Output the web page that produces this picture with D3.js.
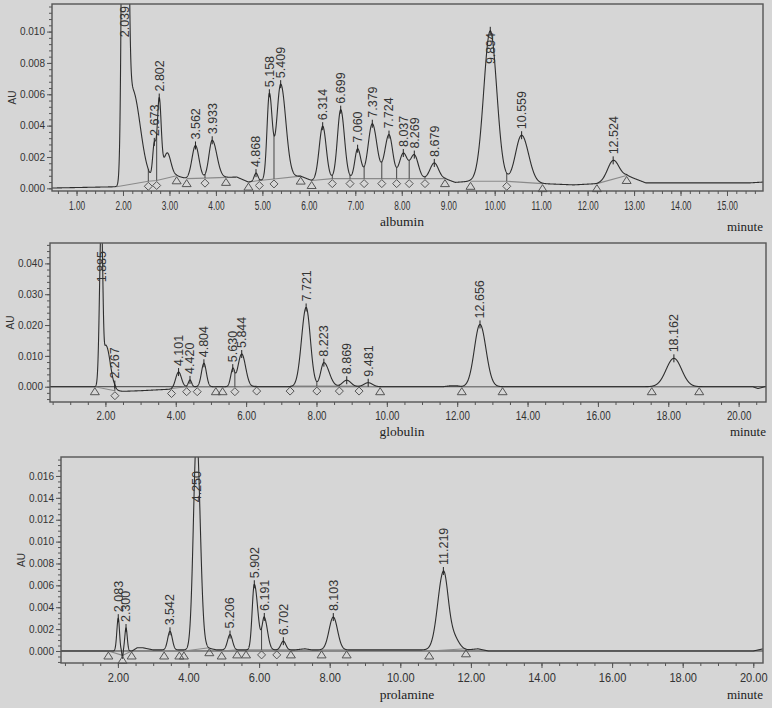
<!DOCTYPE html>
<html>
<head>
<meta charset="utf-8">
<script src="https://cdnjs.cloudflare.com/ajax/libs/d3/7.8.5/d3.min.js"></script>
<style>
  body { margin: 0; background: #d6d6d6; }
  svg { display: block; }
</style>
</head>
<body>
<svg id="chart" width="772" height="708"></svg>
<script>
// ---- albumin: peaks (centre, height, left/right width in minutes), drift, baseline marks
var albPeakT  = [2.04, 2.2, 2.674, 2.78, 2.95, 3.56, 3.92, 4.863, 5.15, 5.394, 6.298, 6.686, 7.05, 7.366, 7.725, 8.033, 8.27, 8.70, 9.905, 10.58, 12.55];
var albPeakH  = [0.06, 0.006, 0.0022, 0.005, 0.0016, 0.0021, 0.0024, 0.0005, 0.0054, 0.006, 0.0034, 0.0044, 0.0019, 0.0035, 0.0028, 0.0016, 0.0015, 0.001, 0.0096, 0.003, 0.0012];
var albPeakSL = [0.045, 0.1, 0.035, 0.04, 0.08, 0.075, 0.07, 0.04, 0.05, 0.085, 0.075, 0.07, 0.06, 0.09, 0.09, 0.085, 0.085, 0.09, 0.14, 0.13, 0.12];
var albPeakSR = [0.05, 0.17, 0.04, 0.042, 0.08, 0.075, 0.1, 0.04, 0.06, 0.11, 0.075, 0.08, 0.07, 0.1, 0.08, 0.085, 0.085, 0.09, 0.14, 0.15, 0.12];
var albLabels = ["2.039", "", "2.673", "2.802", "", "3.562", "3.933", "4.868", "5.158", "5.409", "6.314", "6.699", "7.060", "7.379", "7.724", "8.037", "8.269", "8.679", "9.894", "10.559", "12.524"];
var albDriftT = [0.47, 1.85, 2.55, 2.72, 3.15, 3.37, 3.77, 4.22, 4.45, 4.70, 4.93, 5.25, 5.82, 6.06, 6.5, 8.93, 9.15, 9.48, 10.26, 11.03, 11.7, 12.2, 12.84, 13.25, 15.5, 15.78];
var albDriftV = [0.00002, 0.0001, 0.00045, 0.0005, 0.0008, 0.00062, 0.00065, 0.0007, 0.00072, 0.0004, 0.0005, 0.0006, 0.00078, 0.0005, 0.00062, 0.00062, 0.00038, 0.00045, 0.00045, 0.0003, 0.00022, 0.0003, 0.00082, 0.00035, 0.00035, 0.0004];
var albMarkT  = [1.86, 2.545, 2.725, 3.155, 3.37, 3.765, 4.217, 4.70, 4.934, 5.25, 5.825, 6.06, 6.505, 6.886, 7.19, 7.57, 7.89, 8.16, 8.50, 8.93, 9.48, 10.26, 11.03, 12.20, 12.84];
var albMarkV  = [0.0001, 0.00045, 0.0005, 0.0008, 0.00062, 0.00065, 0.0007, 0.0004, 0.0005, 0.0006, 0.00078, 0.0005, 0.00062, 0.00062, 0.00062, 0.00062, 0.00062, 0.00062, 0.00062, 0.00062, 0.00045, 0.00045, 0.0003, 0.0003, 0.00082];
var albMarkType  = ["", "d", "d", "t", "t", "d", "t", "t", "d", "d", "t", "t", "d", "d", "d", "d", "d", "d", "d", "t", "t", "d", "t", "t", "t"];
var albMarkGroup = [0, 0, 0, 0, 1, 1, 1, 2, 2, 2, 2, 3, 3, 3, 3, 3, 3, 3, 3, 3, 4, 4, 4, 5, 5];
var albXTicks = [1, 2, 3, 4, 5, 6, 7, 8, 9, 10, 11, 12, 13, 14, 15];
var albYTicks = [0, 0.002, 0.004, 0.006, 0.008, 0.010];

// ---- globulin
var gloPeakT  = [1.885, 2.02, 2.267, 4.08, 4.405, 4.80, 5.62, 5.875, 7.706, 8.21, 8.86, 9.47, 12.648, 18.16];
var gloPeakH  = [0.055, 0.014, 0.0003, 0.0049, 0.0022, 0.0076, 0.0053, 0.0106, 0.0257, 0.0078, 0.0021, 0.0013, 0.0202, 0.0092];
var gloPeakSL = [0.05, 0.06, 0.03, 0.08, 0.045, 0.07, 0.06, 0.11, 0.13, 0.09, 0.12, 0.12, 0.16, 0.22];
var gloPeakSR = [0.04, 0.12, 0.03, 0.08, 0.045, 0.07, 0.05, 0.11, 0.12, 0.15, 0.12, 0.12, 0.17, 0.22];
var gloLabels = ["1.885", "", "2.267", "4.101", "4.420", "4.804", "5.630", "5.844", "7.721", "8.223", "8.869", "9.481", "12.656", "18.162"];
var gloDriftT = [0.42, 1.70, 2.27, 2.5, 3.0, 3.85, 4.0, 4.3, 11.6, 11.8, 12.0, 12.13, 20.4, 20.55, 20.78];
var gloDriftV = [0, 0, -0.0013, -0.0015, -0.0013, -0.0008, -0.0002, 0, 0, 0.0003, 0.0003, 0, 0, -0.0006, 0.0001];
var gloMarkT  = [1.70, 2.27, 3.88, 4.31, 4.61, 5.14, 5.33, 5.68, 6.30, 7.25, 8.01, 8.65, 9.21, 9.81, 12.13, 13.29, 17.53, 18.88];
var gloMarkV  = [0, -0.0013, -0.0006, 0, 0, 0, 0, 0, 0.0002, 0.0002, 0.0002, 0.0002, 0.0002, 0, 0, 0, 0, 0];
var gloMarkType  = ["t", "d", "d", "d", "d", "t", "t", "d", "d", "d", "d", "d", "d", "t", "t", "t", "t", "t"];
var gloMarkGroup = [0, 0, 1, 1, 1, 1, 2, 2, 2, 3, 3, 3, 3, 3, 4, 4, 5, 5];
var gloXTicks = [2, 4, 6, 8, 10, 12, 14, 16, 18, 20];
var gloYTicks = [0, 0.010, 0.020, 0.030, 0.040];

// ---- prolamine
var proPeakT  = [2.01, 2.13, 2.23, 3.476, 4.23, 5.176, 5.864, 6.147, 6.686, 8.102, 11.22, 11.5];
var proPeakH  = [0.003, -0.0007, 0.0021, 0.0017, 0.0195, 0.0014, 0.006, 0.0029, 0.0008, 0.003, 0.007, 0.0012];
var proPeakSL = [0.04, 0.015, 0.035, 0.065, 0.09, 0.07, 0.06, 0.06, 0.07, 0.12, 0.16, 0.15];
var proPeakSR = [0.035, 0.015, 0.035, 0.065, 0.1, 0.07, 0.1, 0.09, 0.07, 0.12, 0.13, 0.15];
var proLabels = ["2.083", "", "2.300", "3.542", "4.250", "5.206", "5.902", "6.191", "6.702", "8.103", "11.219", ""];
var proDriftT = [0.39, 2.4, 2.55, 2.7, 3.0, 4.0, 4.5, 4.8, 5.6, 7.0, 7.3, 7.5, 7.7, 9.0, 11.9, 12.2, 12.5, 20.0, 20.28];
var proDriftV = [0, 0, 0.0003, 0.0003, 0.0001, 0.0001, 0.0003, 0.0001, 0.0001, 0.0001, 0.0002, 0.0001, 0.0001, 0.0001, 0.0001, 0.0002, 0, 0, 0.0002];
var proMarkT  = [1.73, 2.13, 2.39, 3.31, 3.74, 3.87, 4.59, 4.94, 5.38, 5.63, 6.07, 6.50, 6.90, 7.77, 8.48, 10.82, 11.86];
var proMarkV  = [0, -0.0004, 0, 0, 0, 0, 0.0003, 0, 0.0001, 0.0001, 0.0001, 0.0001, 0.0001, 0.0001, 0.0001, 0, 0.0002];
var proMarkType  = ["t", "t", "t", "t", "t", "t", "t", "t", "t", "t", "d", "d", "t", "t", "t", "t", "t"];
var proMarkGroup = [0, 0, 0, 1, 1, 2, 2, 3, 3, 4, 4, 4, 4, 5, 5, 6, 6];
var proXTicks = [2, 4, 6, 8, 10, 12, 14, 16, 18, 20];
var proYTicks = [0, 0.002, 0.004, 0.006, 0.008, 0.010, 0.012, 0.014, 0.016];

// panel layout
var panels = [
  { name: "albumin", left: 52, right: 763, top: 4, bottom: 191,
    xDom: [0.472, 15.775], yDom: [-0.00017, 0.01176],
    peakT: albPeakT, peakH: albPeakH, peakSL: albPeakSL, peakSR: albPeakSR, labels: albLabels,
    driftT: albDriftT, driftV: albDriftV,
    markT: albMarkT, markV: albMarkV, markType: albMarkType, markGroup: albMarkGroup,
    xTicks: albXTicks, yTicks: albYTicks, xMinor: 0.2, yMinor: 0.0004,
    xSquash: 0.64, xPad: 5, zero: false, nameX: 402, nameY: 226, minuteY: 231, auX: 12, clipPad: 0 },
  { name: "globulin", left: 50, right: 766, top: 243, bottom: 402,
    xDom: [0.425, 20.778], yDom: [-0.00496, 0.04661],
    peakT: gloPeakT, peakH: gloPeakH, peakSL: gloPeakSL, peakSR: gloPeakSR, labels: gloLabels,
    driftT: gloDriftT, driftV: gloDriftV,
    markT: gloMarkT, markV: gloMarkV, markType: gloMarkType, markGroup: gloMarkGroup,
    xTicks: gloXTicks, yTicks: gloYTicks, xMinor: 0.5, yMinor: 0.002,
    xSquash: 0.75, xPad: 4, zero: true, nameX: 402, nameY: 436, minuteY: 436, auX: 10, clipPad: 6 },
  { name: "prolamine", left: 61, right: 763, top: 457, bottom: 663,
    xDom: [0.388, 20.275], yDom: [-0.001097, 0.017733],
    peakT: proPeakT, peakH: proPeakH, peakSL: proPeakSL, peakSR: proPeakSR, labels: proLabels,
    driftT: proDriftT, driftV: proDriftV,
    markT: proMarkT, markV: proMarkV, markType: proMarkType, markGroup: proMarkGroup,
    xTicks: proXTicks, yTicks: proYTicks, xMinor: 0.5, yMinor: 0.0005,
    xSquash: 0.85, xPad: 5, zero: true, nameX: 407, nameY: 699, minuteY: 699, auX: 21, clipPad: 12 }
];

var svg = d3.select("#chart");
svg.append("rect").attr("width", 772).attr("height", 708).attr("fill", "#d6d6d6");

var sans = "'Liberation Sans', Arial, sans-serif";
var serif = "'Liberation Serif', 'Times New Roman', serif";

panels.forEach(function(p, idx) {
  var x = d3.scaleLinear().domain(p.xDom).range([p.left, p.right]);
  var y = d3.scaleLinear().domain(p.yDom).range([p.bottom, p.top]);
  var drift = d3.scaleLinear().domain(p.driftT).range(p.driftV).clamp(true);

  // trace value = drift + sum of (asymmetric) gaussian peaks
  function trace(t) {
    var v = drift(t);
    for (var i = 0; i < p.peakT.length; i++) {
      var s = t < p.peakT[i] ? p.peakSL[i] : p.peakSR[i];
      var z = (t - p.peakT[i]) / s;
      v += p.peakH[i] * Math.exp(-0.5 * z * z);
    }
    return v;
  }

  var g = svg.append("g");

  svg.append("clipPath").attr("id", "clip" + idx)
    .append("rect")
    .attr("x", p.left).attr("y", p.top)
    .attr("width", p.right - p.left).attr("height", p.bottom - p.top);

  // minor ticks
  var yMinorVals = d3.range(Math.ceil(p.yDom[0] / p.yMinor) * p.yMinor, p.yDom[1], p.yMinor);
  g.append("g").attr("transform", "translate(" + p.left + ",0)")
    .call(d3.axisLeft(y).tickValues(yMinorVals).tickSize(3).tickFormat(""))
    .call(function(a) { a.select(".domain").remove(); a.selectAll("line").attr("stroke", "#555"); });
  var xMinorVals = d3.range(Math.ceil(p.xDom[0] / p.xMinor) * p.xMinor, p.xDom[1], p.xMinor);
  g.append("g").attr("transform", "translate(0," + p.bottom + ")")
    .call(d3.axisBottom(x).tickValues(xMinorVals).tickSize(3).tickFormat(""))
    .call(function(a) { a.select(".domain").remove(); a.selectAll("line").attr("stroke", "#555"); });

  // major ticks
  g.append("g").attr("transform", "translate(" + p.left + ",0)")
    .call(d3.axisLeft(y).tickValues(p.yTicks).tickSize(5).tickPadding(2).tickFormat(d3.format(".3f")))
    .call(function(a) {
      a.select(".domain").remove();
      a.selectAll("line").attr("stroke", "#555");
      a.selectAll("text").attr("fill", "#333").style("font-family", sans).style("font-size", "10px");
    });
  g.append("g").attr("transform", "translate(0," + p.bottom + ")")
    .call(d3.axisBottom(x).tickValues(p.xTicks).tickSize(5).tickPadding(p.xPad).tickFormat(d3.format(".2f")))
    .call(function(a) {
      a.select(".domain").remove();
      a.selectAll("line").attr("stroke", "#555");
      a.selectAll("text").attr("fill", "#333").attr("transform", "scale(" + p.xSquash + ",1)")
        .style("font-family", sans).style("font-size", "13px");
    });

  // zero line
  if (p.zero) {
    g.append("line")
      .attr("x1", p.left).attr("x2", p.right)
      .attr("y1", y(0)).attr("y2", y(0))
      .attr("stroke", "#3a3a3a").attr("stroke-width", 1);
  }

  // integration baselines (grey) per group
  var marks = p.markT.map(function(t, i) {
    return { t: t, v: p.markV[i], type: p.markType[i], group: p.markGroup[i] };
  });
  var groups = d3.groups(marks, function(d) { return d.group; });
  var baseLine = d3.line().x(function(d) { return x(d.t); }).y(function(d) { return y(d.v); });
  g.append("g").selectAll("path")
    .data(groups)
    .enter().append("path")
    .attr("d", function(d) { return baseLine(d[1]); })
    .attr("fill", "none").attr("stroke", "#8a8a8a").attr("stroke-width", 1.1);

  // drop lines at valley marks
  g.append("g").selectAll("line")
    .data(marks.filter(function(d) { return d.type === "d"; }))
    .enter().append("line")
    .attr("x1", function(d) { return x(d.t); }).attr("x2", function(d) { return x(d.t); })
    .attr("y1", function(d) { return y(trace(d.t)); }).attr("y2", function(d) { return y(d.v); })
    .attr("stroke", "#444").attr("stroke-width", 1);

  // trace
  var samples = d3.range(p.xDom[0], p.xDom[1], 0.003).map(function(t) { return [t, trace(t)]; });
  g.append("path")
    .datum(samples)
    .attr("clip-path", "url(#clip" + idx + ")")
    .attr("d", d3.line().x(function(d) { return x(d[0]); }).y(function(d) { return y(d[1]); }))
    .attr("fill", "none").attr("stroke", "#2e2e2e").attr("stroke-width", 1.1);

  // markers
  var tri = "M0,-4L4.5,3L-4.5,3Z";
  var dia = "M0,-4L4,0L0,4L-4,0Z";
  g.append("g").selectAll("path")
    .data(marks.filter(function(d) { return d.type !== ""; }))
    .enter().append("path")
    .attr("transform", function(d) { return "translate(" + x(d.t) + "," + (y(d.v) + 5) + ")"; })
    .attr("d", function(d) { return d.type === "t" ? tri : dia; })
    .attr("fill", "none").attr("stroke", "#555").attr("stroke-width", 1);

  // apex ticks and peak labels
  var peaks = p.peakT.map(function(t, i) { return { t: t, label: p.labels[i] }; })
    .filter(function(d) { return d.label !== ""; });
  peaks.forEach(function(d) {
    var px = x(d.t), py = y(trace(d.t));
    if (py > p.top + 3) {
      g.append("line").attr("x1", px).attr("x2", px).attr("y1", py - 4).attr("y2", py + 4)
        .attr("stroke", "#222").attr("stroke-width", 1);
    }
    var txt = g.append("text")
      .text(d.label)
      .attr("dy", "0.35em")
      .attr("fill", "#333")
      .style("font-family", sans).style("font-size", "12.5px");
    var len = txt.node().getComputedTextLength();
    var base = py - 6;
    // no room above the apex: the label hangs down over the peak instead
    if (base - len < p.top + 1) {
      base = (py > p.top ? py : p.top + p.clipPad) + 2 + len;
    }
    txt.attr("transform", "translate(" + px + "," + base + ") rotate(-90)");
  });

  // frame
  g.append("rect")
    .attr("x", p.left).attr("y", p.top)
    .attr("width", p.right - p.left).attr("height", p.bottom - p.top)
    .attr("fill", "none").attr("stroke", "#555").attr("stroke-width", 1.4);

  // axis names
  g.append("text").text(p.name)
    .attr("x", p.nameX).attr("y", p.nameY).attr("text-anchor", "middle")
    .attr("fill", "#222").style("font-family", serif).style("font-size", "13.5px");
  g.append("text").text("minute")
    .attr("x", p.right).attr("y", p.minuteY).attr("text-anchor", "end")
    .attr("fill", "#222").style("font-family", serif).style("font-size", "13px");
  g.append("text").text("AU")
    .attr("transform", "translate(" + p.auX + "," + ((p.top + p.bottom) / 2) + ") rotate(-90)")
    .attr("text-anchor", "middle").attr("dy", "0.35em")
    .attr("fill", "#333").style("font-family", sans).style("font-size", "10px");
});
</script>
</body>
</html>
